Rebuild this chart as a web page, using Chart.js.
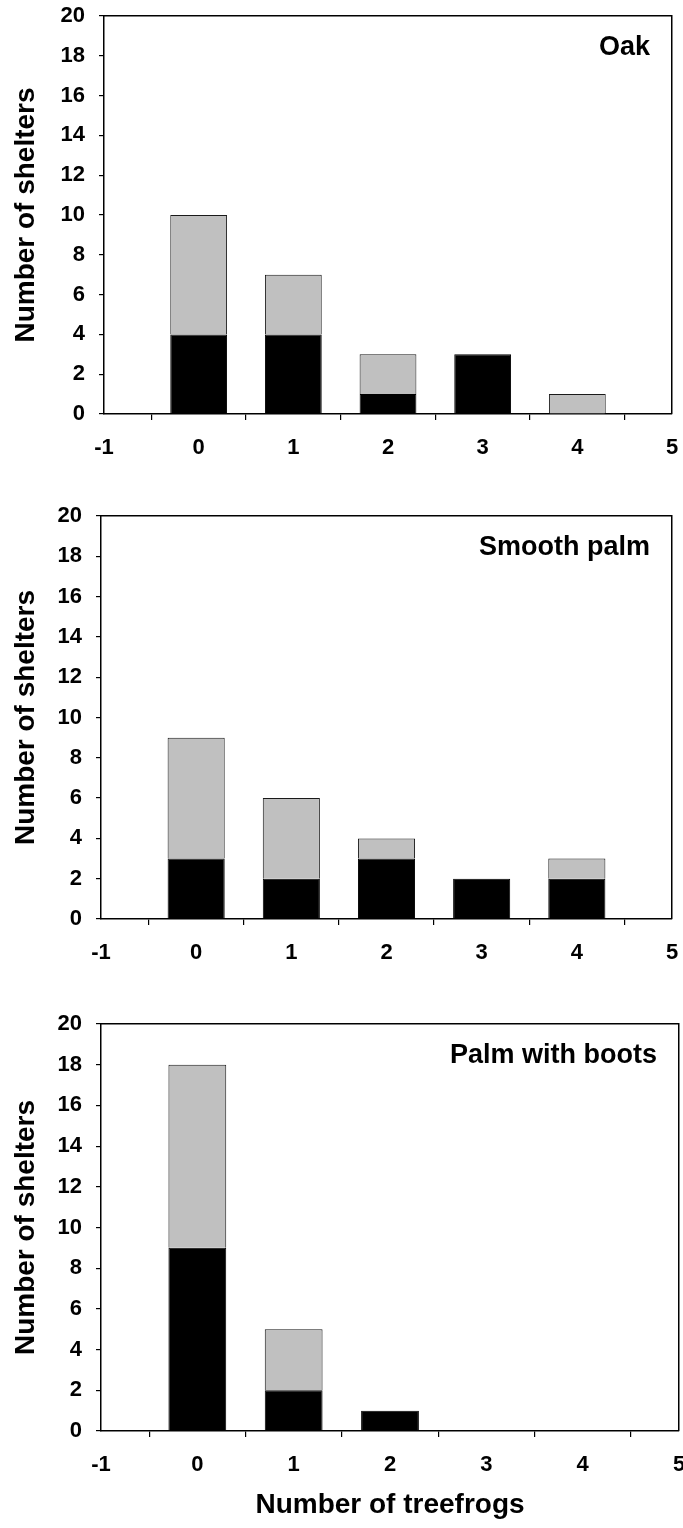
<!DOCTYPE html>
<html>
<head>
<meta charset="utf-8">
<script src="https://cdn.jsdelivr.net/npm/chart.js@4.4.1/dist/chart.umd.min.js"></script>
<style>
  html, body { margin: 0; padding: 0; background: #fff; }
  body { width: 683px; height: 1528px; position: relative; overflow: hidden; }
  .panel { position: absolute; left: 0; width: 683px; }
  canvas { display: block; }
</style>
</head>
<body>
<div class="panel" style="top:0px"><canvas id="oak" width="683" height="480"></canvas></div>
<div class="panel" style="top:500px"><canvas id="smooth" width="683" height="480"></canvas></div>
<div class="panel" style="top:1000px"><canvas id="boots" width="683" height="528"></canvas></div>
<script>
// Number of treefrogs found per shelter (bar positions on the x axis)
const treefrogCounts = [0, 1, 2, 3, 4];

// Shelter counts: dark segment (bottom) and light segment (top) of each stacked bar
const oakDark     = [4, 4, 1, 3, 0];
const oakLight    = [6, 3, 2, 0, 1];
const smoothDark  = [3, 2, 3, 2, 2];
const smoothLight = [6, 4, 1, 0, 1];
const bootsDark   = [9, 2, 1, 0, 0];
const bootsLight  = [9, 3, 0, 0, 0];

// Axis tick labels
const xTickValues = [-1, 0, 1, 2, 3, 4, 5];
const yTickValues = [0, 2, 4, 6, 8, 10, 12, 14, 16, 18, 20];

const FONT = '"Liberation Sans", Arial, Helvetica, sans-serif';
const AXIS_W = 1.5;

function align(px, w) {
  return Math.round(px - w / 2) + w / 2;
}

// Closes the plot box on the top and right sides
const framePlugin = {
  id: 'frame',
  beforeDatasetsDraw(chart) {
    const { ctx, chartArea: a } = chart;
    const T = align(a.top, AXIS_W), R = align(a.right, AXIS_W), B = align(a.bottom, AXIS_W);
    const L = align(a.left, AXIS_W);
    ctx.save();
    ctx.strokeStyle = '#000';
    ctx.lineWidth = AXIS_W;
    ctx.beginPath();
    ctx.moveTo(L, T);
    ctx.lineTo(R, T);
    ctx.lineTo(R, B);
    ctx.stroke();
    ctx.restore();
  }
};

// Shelter-type name in the upper right corner of each panel
const panelLabelPlugin = {
  id: 'panelLabel',
  afterDraw(chart, args, opts) {
    const { ctx, chartArea: a } = chart;
    ctx.save();
    ctx.font = 'bold 27px ' + FONT;
    ctx.fillStyle = '#000';
    ctx.textAlign = 'right';
    ctx.textBaseline = 'alphabetic';
    ctx.fillText(opts.text, a.right - 22, a.top + 38.5);
    ctx.restore();
  }
};

function points(values) {
  return treefrogCounts.map((x, i) => ({ x: x, y: values[i] }));
}

function makePanel(canvasId, label, dark, light, area, showXTitle) {
  const canvas = document.getElementById(canvasId);
  const H = canvas.height;
  return new Chart(canvas, {
    type: 'bar',
    data: {
      datasets: [
        { data: points(dark), backgroundColor: '#000000', borderColor: '#000000', borderWidth: 1,
          categoryPercentage: 1.0, barPercentage: 0.6 },
        { data: points(light), backgroundColor: '#C0C0C0', borderColor: '#1a1a1a', borderWidth: 1,
          categoryPercentage: 1.0, barPercentage: 0.6 }
      ]
    },
    options: {
      responsive: false,
      animation: false,
      devicePixelRatio: 1,
      layout: { padding: { left: 0, top: area.top, right: 683 - area.right, bottom: 0 } },
      plugins: {
        legend: { display: false },
        tooltip: { enabled: false },
        panelLabel: { text: label }
      },
      scales: {
        x: {
          type: 'linear',
          min: -1, max: 5,
          offset: false,
          stacked: true,
          afterBuildTicks: s => { s.ticks = xTickValues.map(v => ({ value: v })); },
          afterFit: s => { s.height = H - area.bottom; s.paddingLeft = 0; s.paddingRight = 0; },
          grid: { display: true, drawOnChartArea: false, drawTicks: true, tickLength: 6, color: '#000', lineWidth: 1.2 },
          border: { display: true, color: '#000', width: AXIS_W },
          ticks: {
            color: '#000', padding: 15, maxRotation: 0, autoSkip: false,
            font: { family: FONT, size: 22, weight: 'bold' },
            callback: v => String(v)
          },
          title: {
            display: showXTitle, text: 'Number of treefrogs', color: '#000',
            font: { family: FONT, size: 28, weight: 'bold' },
            padding: { top: 0, bottom: 6 }
          }
        },
        y: {
          min: 0, max: 20,
          stacked: true,
          afterBuildTicks: s => { s.ticks = yTickValues.map(v => ({ value: v })); },
          afterFit: s => { s.width = area.left; s.paddingTop = 0; s.paddingBottom = 0; },
          grid: { display: true, drawOnChartArea: false, drawTicks: true, tickLength: 5, color: '#000', lineWidth: 1.2 },
          border: { display: true, color: '#000', width: AXIS_W },
          ticks: {
            color: '#000', padding: 14,
            font: { family: FONT, size: 22, weight: 'bold' },
            callback: v => String(v)
          },
          title: {
            display: true, text: 'Number of shelters', color: '#000',
            font: { family: FONT, size: 28, weight: 'bold' },
            padding: { top: 9, bottom: 0 }
          }
        }
      }
    },
    plugins: [framePlugin, panelLabelPlugin]
  });
}

makePanel('oak', 'Oak', oakDark, oakLight, { left: 104, top: 16, right: 672, bottom: 414 }, false);
makePanel('smooth', 'Smooth palm', smoothDark, smoothLight, { left: 101, top: 16, right: 672, bottom: 419 }, false);
makePanel('boots', 'Palm with boots', bootsDark, bootsLight, { left: 101, top: 24, right: 679, bottom: 431 }, true);
</script>
</body>
</html>
